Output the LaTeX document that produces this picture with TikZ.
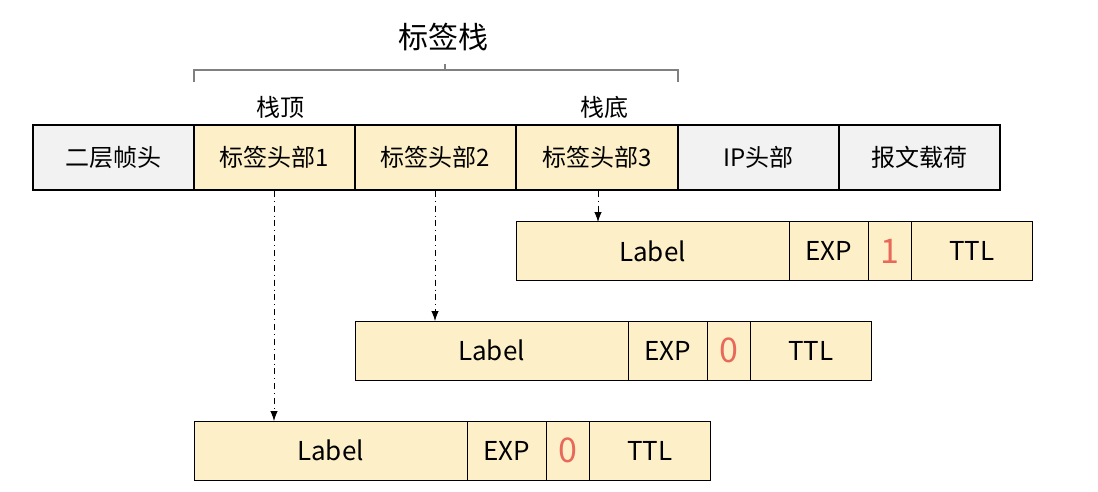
\documentclass[tikz,border=0pt]{standalone}
\usepackage{fontspec}
\setmainfont{Noto Sans CJK SC}
\usetikzlibrary{positioning,calc,arrows.meta}
\definecolor{lbl}{HTML}{FDF0C8}
\definecolor{hdr}{HTML}{F2F2F2}
\definecolor{bit}{HTML}{E8695A}
\tikzset{
  cell/.style={draw,thick,minimum height=32.5pt,inner sep=0pt,font=\fontsize{12}{12}\selectfont},
  fld/.style={draw,thin,fill=lbl,minimum height=29.5pt,inner sep=0pt,font=\fontsize{13}{13}\selectfont},
  link/.style={dash dot,-{Latex[length=5pt]}}
}
\begin{document}
\begin{tikzpicture}[x=0.5pt,y=-0.5pt]
\useasboundingbox (0,0) rectangle (1098,492);
% top row
\node[cell,fill=hdr,minimum width=80.5pt] (l2) at (113.5,157.5) {二层帧头};
\node[cell,fill=lbl,minimum width=80.5pt] (h1) at (274.5,157.5) {标签头部1};
\node[cell,fill=lbl,minimum width=80.5pt] (h2) at (435.5,157.5) {标签头部2};
\node[cell,fill=lbl,minimum width=81pt] (h3) at (597,157.5) {标签头部3};
\node[cell,fill=hdr,minimum width=80.5pt] (ip) at (758.5,157.5) {IP头部};
\node[cell,fill=hdr,minimum width=80.5pt] (pl) at (919.5,157.5) {报文载荷};
% bracket
\draw[gray,thick] (194,82) -- (194,70) -- (678,70) -- (678,82);
\draw[gray,thick] (445,70) -- (445,64);
\node[font=\fontsize{15}{15}\selectfont] (stk) at (443,37) {标签栈};
\node[font=\fontsize{12}{12}\selectfont] (top) at (280,107) {栈顶};
\node[font=\fontsize{12}{12}\selectfont] (bot) at (604,107) {栈底};
% label entries
\foreach \n/\x/\y/\s in {c/516/251/1,b/355/350.5/0,a/194/450.5/0}{
  \node[fld,minimum width=136.5pt] (\n lab) at (\x+136.5,\y) {Label};
  \node[fld,minimum width=39.5pt] (\n exp) at (\x+312.5,\y) {EXP};
  \node[fld,minimum width=22pt,text=bit,font=\fontsize{17}{17}\selectfont] (\n s) at (\x+374,\y) {\s};
  \node[fld,minimum width=60.5pt] (\n ttl) at (\x+456,\y) {TTL};
}
\coordinate (t1) at (274,421);
\coordinate (t2) at (435,321);
\coordinate (t3) at (598,222);
\draw[link] (h1.south -| t1) -- (t1);
\draw[link] (h2.south -| t2) -- (t2);
\draw[link] (h3.south -| t3) -- (t3);
\end{tikzpicture}
\end{document}
